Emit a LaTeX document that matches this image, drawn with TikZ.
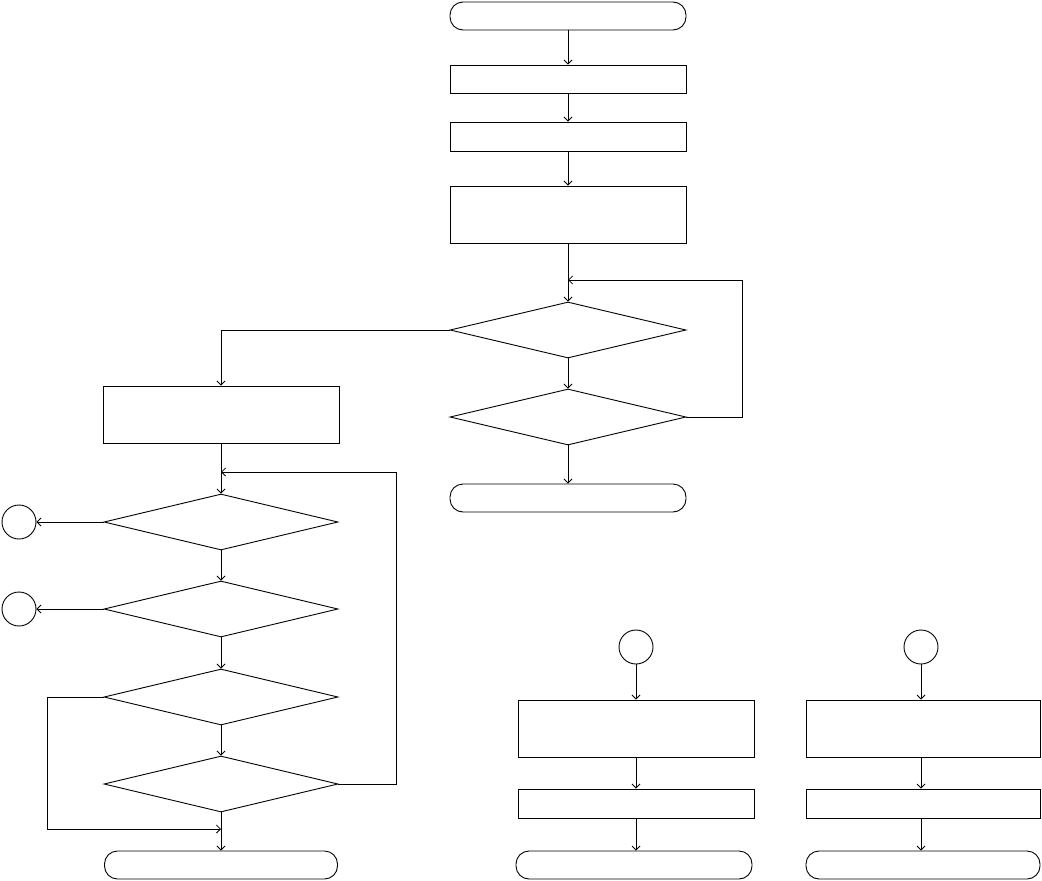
\documentclass[tikz,border=0pt]{standalone}
\usetikzlibrary{shapes.geometric,arrows.meta}
\begin{document}
\begin{tikzpicture}[x=1pt,y=-1pt,
  every node/.style={draw,line width=0.9pt,inner sep=0pt},
  boxnode/.style={rectangle,minimum width=236pt},
  termnode/.style={rectangle,rounded corners=13pt,minimum width=236pt,minimum height=28pt},
  decnode/.style={diamond,minimum width=236pt,minimum height=56pt},
  connnode/.style={circle,minimum size=34pt},
  arr/.style={line width=0.8pt,-{Straight Barb[length=4pt,width=8pt]}},
  ln/.style={line width=0.8pt}]
\useasboundingbox (0,0) rectangle (1042,881);
% main column
\node[termnode] (start) at (568,16) {};
\node[boxnode,minimum height=28pt] (b1) at (568,79) {};
\node[boxnode,minimum height=29pt] (b2) at (568,136.5) {};
\node[boxnode,minimum height=57pt] (b3) at (568,214.5) {};
\node[decnode] (d1) at (568,330) {};
\node[decnode] (d2) at (568,417) {};
\node[termnode] (end1) at (568,498) {};
\coordinate (j1) at (568,280);
\draw[arr] (start) -- (b1);
\draw[arr] (b1) -- (b2);
\draw[arr] (b2) -- (b3);
\draw[arr] (b3) -- (d1);
\draw[arr] (d1) -- (d2);
\draw[arr] (d2) -- (end1);
\draw[arr] (d2.east) -- ++(56,0) |- (j1);
% left column
\node[boxnode,minimum height=57pt] (lb) at (221,414.5) {};
\node[decnode,minimum width=234pt] (dA) at (221,522) {};
\node[decnode,minimum width=234pt] (dB) at (221,609) {};
\node[decnode,minimum width=234pt] (dC) at (221,697) {};
\node[decnode,minimum width=234pt] (dD) at (221,784) {};
\node[termnode,minimum width=233pt] (end2) at (221,865) {};
\node[connnode] (cA) at (19,522) {};
\node[connnode] (cB) at (19,609) {};
\coordinate (j2) at (221,472);
\coordinate (j3) at (221,829);
\draw[arr] (d1.west) -| (lb.north);
\draw[arr] (lb) -- (dA);
\draw[arr] (dA) -- (dB);
\draw[arr] (dB) -- (dC);
\draw[arr] (dC) -- (dD);
\draw[arr] (dD) -- (end2);
\draw[arr] (dA.west) -- (cA.east);
\draw[arr] (dB.west) -- (cB.east);
\draw[arr] (dD.east) -- ++(58,0) |- (j2);
\draw[arr] (dC.west) -- (47,697) |- (j3);
% bottom right columns
\node[connnode] (c1) at (636,647) {};
\node[boxnode,minimum height=57pt] (rb1) at (636,728.5) {};
\node[boxnode,minimum height=29pt] (rb2) at (636,803.5) {};
\node[termnode] (end3) at (634,865) {};
\draw[arr] (c1) -- (rb1);
\draw[arr] (rb1) -- (rb2);
\draw[arr] (rb2) -- (end3.north -| rb2);
\node[connnode] (c2) at (921,647) {};
\node[boxnode,minimum width=234pt,minimum height=57pt] (sb1) at (923,728.5) {};
\node[boxnode,minimum width=234pt,minimum height=29pt] (sb2) at (923,803.5) {};
\node[termnode,minimum width=234pt] (end4) at (923,865) {};
\draw[arr] (c2) -- (c2 |- sb1.north);
\draw[arr] (c2 |- sb1.south) -- (c2 |- sb2.north);
\draw[arr] (c2 |- sb2.south) -- (c2 |- end4.north);
\end{tikzpicture}
\end{document}
